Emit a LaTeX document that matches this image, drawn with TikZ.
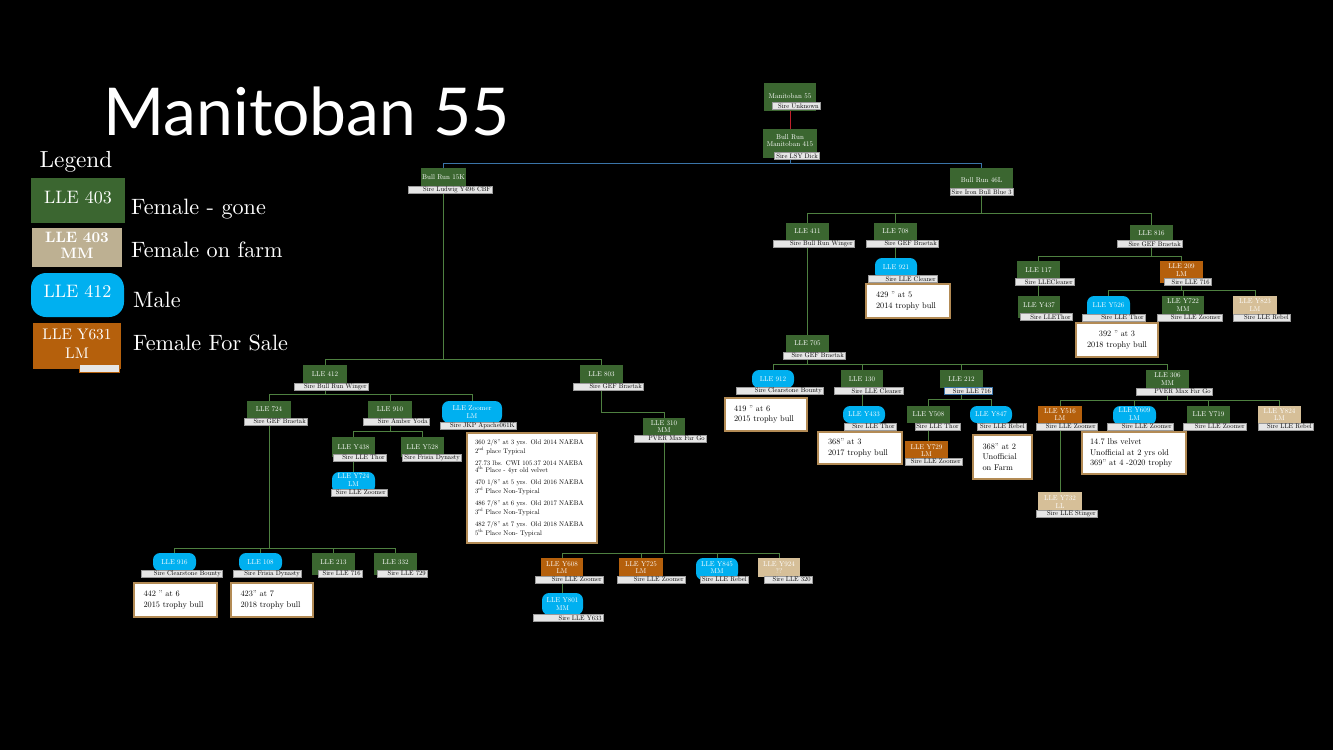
\documentclass[tikz,border=0pt]{standalone}
\usepackage{fontspec}
\setmainfont{lmroman10}[Extension=.otf,UprightFont=*-regular,BoldFont=*-bold,ItalicFont=*-italic,BoldItalicFont=*-bolditalic]
\newfontfamily\titlefont{Lato}
\usetikzlibrary{calc}
\definecolor{gr}{HTML}{3B6630}
\definecolor{blu}{HTML}{00B0F0}
\definecolor{org}{HTML}{B5600C}
\definecolor{tanc}{HTML}{D6BF98}
\definecolor{tanl}{HTML}{BDB092}
\definecolor{sirefill}{HTML}{E6E6E6}
\definecolor{siredraw}{HTML}{9A9A9A}
\definecolor{trophyc}{HTML}{B38B55}
\definecolor{lc}{HTML}{4E8040}
\definecolor{bc}{HTML}{3A74A8}
\definecolor{rc}{HTML}{C0202A}
\pgfdeclarelayer{bgfill}
\pgfdeclarelayer{lines}
\pgfsetlayers{bgfill,lines,main}
\tikzset{
  sz/.style 2 args={minimum width=#1pt,minimum height=#2pt},
  box/.style={inner sep=0pt, align=center, text=white, font=\fontsize{7}{7.6}\selectfont},
  gbox/.style={box, fill=gr},
  obox/.style={box, fill=org},
  tbox/.style={box, fill=tanc},
  bbox/.style={box, fill=blu, rounded corners=7pt},
  sirebg/.style={fill=sirefill, draw=siredraw, line width=0.3pt, inner sep=0pt, minimum height=7pt},
  siretxt/.style={inner sep=0pt, text=black, font=\fontsize{6.6}{6.6}\selectfont},
  trophy/.style={fill=white, draw=trophyc, line width=2.5pt, inner sep=0pt, align=left, text=black, font=\fontsize{8.3}{10.4}\selectfont},
  gline/.style={draw=lc, line width=0.8pt},
  bline/.style={draw=bc, line width=0.8pt},
  rline/.style={draw=rc, line width=0.8pt},
  lgtxt/.style={anchor=base west, inner sep=0pt, text=white, font=\fontsize{22.2}{23}\selectfont},
}
\newcommand\sirelab[6][]{%
  \node[sirebg,#1,minimum width=#5pt] (#2) at (#3,#4) {};
  \node[siretxt,anchor=east] (#2t) at ([xshift=-1.2pt]#2.east) {#6};}
\begin{document}
\begin{tikzpicture}[x=1pt,y=-1pt]
\useasboundingbox (0,0) rectangle (1333,750);
\begin{pgfonlayer}{bgfill}
\fill[black] (0,0) rectangle (1333,750);
\end{pgfonlayer}

% title and legend
\node[anchor=base west, inner sep=0pt, text=white, font=\titlefont\fontsize{66}{66}\selectfont] (title) at (103,135) {Manitoban 55};
\node[anchor=base, inner sep=0pt, text=white, font=\fontsize{23.3}{24}\selectfont] (legt) at (76,167) {Legend};
\node[box, fill=gr, sz={94}{45}, font=\fontsize{18}{18}\selectfont, text depth=7pt] (lg1) at (78,200.5) {LLE 403};
\node[lgtxt] (lg1t) at (131,214) {Female - gone};
\node[box, fill=tanl, sz={90}{39}, font=\bfseries\fontsize{15}{16}\selectfont, text depth=5pt] (lg2) at (77,247.5) {LLE 403\\MM};
\node[lgtxt] (lg2t) at (131,257) {Female on farm};
\node[box, fill=blu, rounded corners=15pt, sz={93}{44}, font=\fontsize{18}{18}\selectfont, text depth=6.6pt] (lg3) at (77.5,295) {LLE 412};
\node[lgtxt] (lg3t) at (133,307) {Male};
\node[box, fill=org, sz={88}{46}, font=\fontsize{15.3}{19}\selectfont, text depth=5pt] (lg4) at (77,346) {LLE Y631\\LM};
\node[sirebg, minimum width=40pt, minimum height=8pt, draw=org, line width=0.8pt] (lg4s) at (99,368) {};
\node[lgtxt] (lg4t) at (133,350) {Female For Sale};

% top
\node[gbox, sz={52}{28}, text depth=2pt] (m55) at (790,97) {Manitoban 55};
\sirelab{m55s}{796}{106}{48}{Sire Unknown}
\node[gbox, sz={54}{29}, text depth=6pt] (br415) at (790,143.5) {Bull Run\\Manitoban 415};
\sirelab{br415s}{796.5}{156}{45}{Sire LSY Dick}
\node[gbox, sz={45}{19}] (br15k) at (443.5,177.5) {Bull Run 15K};
\sirelab{br15ks}{450}{189.5}{84}{Sire Ludwig Y496 CBF}
\node[gbox, sz={63}{24}] (br46l) at (981.5,180) {Bull Run 46L};
\sirelab{br46ls}{981.5}{192}{63}{Sire Iron Bull Blue 3}

% right branch
\node[gbox, sz={43}{17}] (l411) at (807.5,231.5) {LLE 411};
\sirelab{l411s}{813.5}{243.5}{81}{Sire Bull Run Winger}
\node[gbox, sz={43}{17}] (l708) at (895.5,231.5) {LLE 708};
\sirelab{l708s}{902}{243.5}{72}{Sire GEF Braetak}
\node[gbox, sz={43}{17}] (l816) at (1151.5,233.5) {LLE 816};
\sirelab{l816s}{1149.5}{244}{65}{Sire GEF Braetak}
\node[bbox, sz={42}{22}, text depth=4pt] (l921) at (896,269) {LLE 921};
\sirelab{l921s}{902.5}{279}{69}{Sire LLE Cleaner}
\node[trophy, sz={84}{34}, text width=64pt] (t921) at (908,301) {429 ” at 5\\2014 trophy bull};

\node[gbox, sz={43}{22}, text depth=4pt] (l117) at (1038.5,272) {LLE 117};
\sirelab{l117s}{1044.5}{282}{59}{Sire LLECleaner}
\node[obox, sz={43}{22}, text depth=4pt] (l209) at (1181.5,272) {LLE 209\\LM};
\sirelab{l209s}{1187.5}{282}{47}{Sire LLE 716}
\node[gbox, sz={42}{22}, text depth=4pt] (ly437) at (1039,307) {LLE Y437};
\sirelab{ly437s}{1046}{317}{52}{Sire LLEThor}
\node[bbox, sz={43}{24}, text depth=6pt] (ly526) at (1108.5,308) {LLE Y526};
\sirelab{ly526s}{1113.5}{317.5}{63}{Sire LLE Thor}
\node[trophy, sz={82}{34}, align=center] (t526) at (1117,340) {392 ” at 3\\2018 trophy bull};
\node[gbox, sz={42}{22}, text depth=4pt] (ly722) at (1183,307) {LLE Y722\\MM};
\sirelab{ly722s}{1189.5}{317.5}{65}{Sire LLE Zoomer}
\node[tbox, sz={44}{22}, text depth=4pt] (ly823) at (1255,307) {LLE Y823\\LM};
\sirelab{ly823s}{1261.5}{317.5}{57}{Sire LLE Rebel}

\node[gbox, sz={43}{17}] (l705) at (807.5,343.5) {LLE 705};
\sirelab{l705s}{814}{355.5}{62}{Sire GEF Braetak}
\node[bbox, sz={42}{18}] (l912) at (773,379) {LLE 912};
\sirelab{l912s}{779.5}{391}{87}{Sire Clearstone Bounty}
\node[trophy, sz={82}{33}, text width=64pt] (t912) at (766,414.5) {419 ” at 6\\2015 trophy bull};
\node[gbox, sz={42}{18}] (l130) at (862,379) {LLE 130};
\sirelab{l130s}{868.5}{391}{69}{Sire LLE Cleaner}
\node[gbox, sz={43}{18}] (l212) at (961.5,379) {LLE 212};
\sirelab[draw=bc, line width=0.7pt]{l212s}{968}{391}{48}{Sire LLE 716}
\node[gbox, sz={43}{18}] (l306) at (1167.5,379) {LLE 306\\MM};
\sirelab{l306s}{1174}{391.5}{76}{PVER Max Far Go}

\node[bbox, sz={42}{17}] (ly433) at (864,414.5) {LLE Y433};
\sirelab{ly433s}{870}{426.5}{52}{Sire LLE Thor}
\node[trophy, sz={84}{32}, text width=64pt] (t433) at (860,448) {368” at 3\\2017 trophy bull};
\node[gbox, sz={43}{17}] (ly508) at (928.5,414.5) {LLE Y508};
\sirelab{ly508s}{937.5}{426.5}{45}{Sire LLE Thor}
\node[bbox, sz={42}{17}] (ly847) at (991,414.5) {LLE Y847};
\sirelab{ly847s}{1001.5}{426.5}{49}{Sire LLE Rebel}
\node[trophy, sz={59}{44}, text width=40pt] (t847) at (1002.5,457) {368” at 2\\Unofficial\\on Farm};
\node[obox, sz={43}{19}] (ly729) at (926.5,450.5) {LLE Y729\\LM};
\sirelab{ly729s}{933.5}{461.5}{57}{Sire LLE Zoomer}

\node[obox, sz={44}{17}] (ly516) at (1060,414.5) {LLE Y516\\LM};
\sirelab{ly516s}{1066.5}{426.5}{61}{Sire LLE Zoomer}
\node[bbox, sz={43}{19}, text depth=3pt] (ly609) at (1134.5,415.5) {LLE Y609\\LM};
\sirelab{ly609s}{1140}{426.5}{66}{Sire LLE Zoomer}
\node[trophy, sz={104}{42}, text width=88pt] (t609) at (1134,453) {14.7 lbs velvet\\Unofficial at 2 yrs old\\369” at 4 -2020 trophy};
\node[gbox, sz={43}{17}] (ly719) at (1208.5,414.5) {LLE Y719};
\sirelab{ly719s}{1214.5}{426.5}{63}{Sire LLE Zoomer}
\node[tbox, sz={43}{17}] (ly824) at (1279.5,414.5) {LLE Y824\\LM};
\sirelab{ly824s}{1285.5}{426.5}{55}{Sire LLE Rebel}
\node[tbox, sz={44}{20}] (ly732) at (1060,502) {LLE Y732\\LL};
\sirelab{ly732s}{1066.5}{514}{61}{Sire LLE Stinger}

% left branch
\node[gbox, sz={44}{18}] (l412) at (325,374) {LLE 412};
\sirelab{l412s}{331}{386.5}{74}{Sire Bull Run Winger}
\node[gbox, sz={43}{19}] (l803) at (601.5,374.5) {LLE 803};
\sirelab{l803s}{608}{386.5}{70}{Sire GEF Braetak}
\node[gbox, sz={44}{17}] (l724) at (269,409.5) {LLE 724};
\sirelab{l724s}{275.5}{421.5}{63}{Sire GEF Braetak}
\node[gbox, sz={44}{17}] (l910) at (390,409.5) {LLE 910};
\sirelab{l910s}{396}{421.5}{66}{Sire Amber Yoda}
\node[bbox, sz={60}{22}] (lzoom) at (472,412) {LLE Zoomer\\LM};
\sirelab{lzooms}{478}{426}{76}{Sire JKP Apache061K}
\node[trophy, sz={130}{110}, text width=114pt, font=\fontsize{6.7}{7.7}\selectfont] (tzoom) at (532,488) {%
360 2/8” at 3 yrs. Old 2014 NAEBA\\2\textsuperscript{nd} place Typical\\[4.3pt]
27.73 lbs. CWI 105.37 2014 NAEBA\\4\textsuperscript{th} Place - 4yr old velvet\\[4.3pt]
470 1/8” at 5 yrs. Old 2016 NAEBA\\3\textsuperscript{rd} Place Non-Typical\\[4.3pt]
486 7/8” at 6 yrs. Old 2017 NAEBA\\3\textsuperscript{rd} Place Non-Typical\\[4.3pt]
482 7/8” at 7 yrs. Old 2018 NAEBA\\5\textsuperscript{th} Place Non- Typical};

\node[gbox, sz={43}{20}] (ly438) at (353.5,447) {LLE Y438};
\sirelab{ly438s}{359.5}{457.5}{53}{Sire LLE Thor}
\node[gbox, sz={43}{20}] (ly528) at (422.5,447) {LLE Y528};
\sirelab{ly528s}{431.5}{457.5}{59}{Sire Frisia Dynasty}
\node[bbox, sz={43}{21}, text depth=5pt] (ly724) at (353.5,482.5) {LLE Y724\\LM};
\sirelab{ly724s}{359}{492.5}{56}{Sire LLE Zoomer}

\node[bbox, sz={43}{18}] (l916) at (174.5,562) {LLE 916};
\sirelab{l916s}{181.5}{573.5}{81}{Sire Clearstone Bounty}
\node[trophy, sz={83}{34}, text width=64pt] (t916) at (175.5,600) {442 ” at 6\\2015 trophy bull};
\node[bbox, sz={43}{18}] (l108) at (260.5,562) {LLE 108};
\sirelab{l108s}{267}{573.5}{68}{Sire Frisia Dynasty}
\node[trophy, sz={82}{34}, text width=63pt] (t108) at (272,600) {423” at 7\\2018 trophy bull};
\node[gbox, sz={43}{22}, text depth=4pt] (l213) at (333.5,564) {LLE 213};
\sirelab{l213s}{340}{573.5}{44}{Sire LLE 716}
\node[gbox, sz={43}{22}, text depth=4pt] (l332) at (395.5,564) {LLE 332};
\sirelab{l332s}{402}{573.5}{50}{Sire LLE 729}

\node[gbox, sz={42}{17}] (l310) at (664,426.5) {LLE 310\\MM};
\sirelab{l310s}{670}{438.5}{72}{PVER Max Far Go}
\node[obox, sz={42}{19}] (ly608) at (562,567.5) {LLE Y608\\LM};
\sirelab{ly608s}{569}{579.5}{68}{Sire LLE Zoomer}
\node[obox, sz={44}{19}] (ly725) at (641,567.5) {LLE Y725\\LM};
\sirelab{ly725s}{651}{579.5}{68}{Sire LLE Zoomer}
\node[bbox, sz={42}{22}, text depth=3pt] (ly845) at (717,569) {LLE Y845\\MM};
\sirelab{ly845s}{724}{579.5}{48}{Sire LLE Rebel}
\node[tbox, sz={42}{19}] (ly924) at (779,567.5) {LLE Y924\\??};
\sirelab{ly924s}{788}{579.5}{48}{Sire LLE 320}
\node[bbox, sz={41}{22}] (ly801) at (562.5,604) {LLE Y801\\MM};
\sirelab{ly801s}{568}{618}{70}{Sire LLE Y633}

% connectors
\begin{pgfonlayer}{lines}
\draw[rline] (m55) -- (br415);
\coordinate (bus0) at (0,163);
\draw[bline] (br415) -- (br415 |- bus0) -| (br15k);
\draw[bline] (br415 |- bus0) -| (br46l);

\coordinate (bus46) at (0,213);
\draw[gline] (br46l) -- (br46l |- bus46) -| (l411);
\draw[gline] (br46l |- bus46) -| (l708);
\draw[gline] (br46l |- bus46) -| (l816);
\draw[gline] (l708) -- (l708 |- l921);
\coordinate (bus816) at (0,256);
\draw[gline] (l816) -- (l816 |- bus816) -| (l117);
\draw[gline] (l816 |- bus816) -| (l209);
\draw[gline] (l117) -- (l117 |- ly437);
\coordinate (bus209) at (0,290);
\draw[gline] (l209) -- (l209 |- bus209) -| (ly526);
\draw[gline] (l209 |- bus209) -| (ly722);
\draw[gline] (l209 |- bus209) -| (ly823);
\draw[gline] (l411) -- (l411 |- l705);
\coordinate (bus705) at (0,364);
\draw[gline] (l705) -- (l705 |- bus705) -| (l912);
\draw[gline] (l705 |- bus705) -| (l130);
\draw[gline] (l705 |- bus705) -| (l212);
\draw[gline] (l705 |- bus705) -| (l306);
\draw[gline] (l130) -- (l130 |- ly433);
\coordinate (bus212) at (0,399);
\draw[gline] (l212) -- (l212 |- bus212) -| (ly508);
\draw[gline] (l212 |- bus212) -| (ly847);
\draw[gline] (ly508) -- (ly508 |- ly729);
\coordinate (bus306) at (0,400);
\draw[gline] (l306) -- (l306 |- bus306) -| (ly516);
\draw[gline] (l306 |- bus306) -| (ly609);
\draw[gline] (l306 |- bus306) -| (ly719);
\draw[gline] (l306 |- bus306) -| (ly824);
\draw[gline] (ly516) -- (ly516 |- ly732);

\coordinate (bus15) at (0,359);
\draw[gline] (br15k) -- (br15k |- bus15) -| (l412);
\draw[gline] (br15k |- bus15) -| (l803);
\coordinate (bus412) at (0,394);
\draw[gline] (l412) -- (l412 |- bus412) -| (l724);
\draw[gline] (l412 |- bus412) -| (l910);
\draw[gline] (l412 |- bus412) -| (lzoom);
\coordinate (bus910) at (0,431);
\draw[gline] (l910) -- (l910 |- bus910) -| (ly438);
\draw[gline] (l910 |- bus910) -| (ly528);
\draw[gline] (ly438) -- (ly438 |- ly724);
\coordinate (bus724) at (0,548);
\draw[gline] (l724) -- (l724 |- bus724) -| (l916);
\draw[gline] (l724 |- bus724) -| (l108);
\draw[gline] (l724 |- bus724) -| (l213);
\draw[gline] (l724 |- bus724) -| (l332);
\coordinate (bus803) at (0,412);
\draw[gline] (l803) -- (l803 |- bus803) -| (l310);
\coordinate (bus310) at (0,553);
\draw[gline] (l310) -- (l310 |- bus310) -| (ly608);
\draw[gline] (l310 |- bus310) -| (ly725);
\draw[gline] (l310 |- bus310) -| (ly845);
\draw[gline] (l310 |- bus310) -| (ly924);
\draw[gline] (ly608) -- (ly608 |- ly801);
\end{pgfonlayer}
\end{tikzpicture}
\end{document}
